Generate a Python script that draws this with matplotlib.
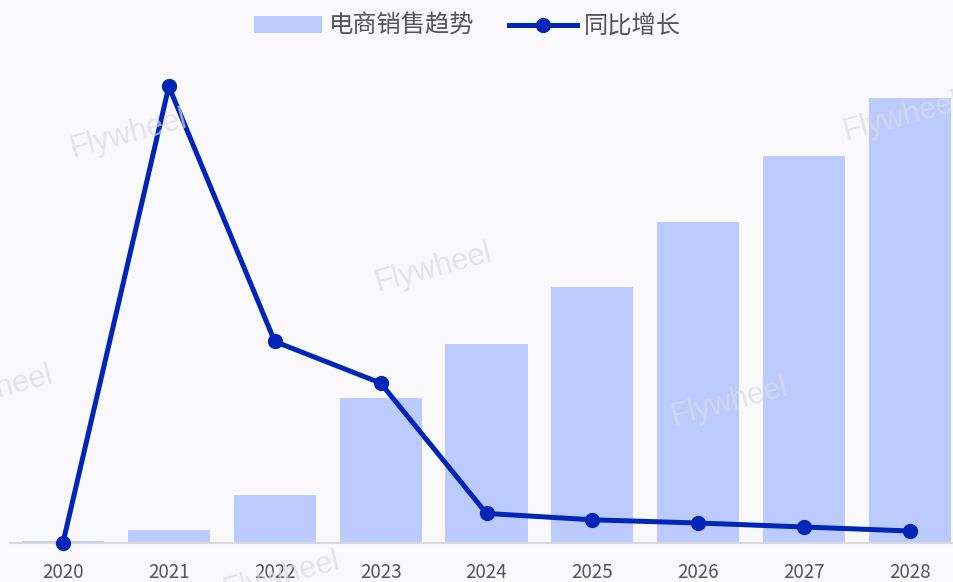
import matplotlib.pyplot as plt
import numpy as np

plt.rcParams['font.family'] = ['Noto Sans CJK SC', 'DejaVu Sans']

# data
years = ['2020', '2021', '2022', '2023', '2024', '2025', '2026', '2027', '2028']
sales = [0.4, 2.9, 10.8, 32.6, 44.7, 57.5, 72.1, 87.0, 100.0]
growth = [0, 571, 252, 200, 37, 29, 25, 20, 15]

bg = '#f9f9fc'
bar_color = '#bccbff'
line_color = '#0026b8'

fig = plt.figure(figsize=(9.54, 5.82), dpi=100, facecolor=bg)
# axes stretches a bit past the right edge (chart is cropped there)
ax = fig.add_axes([10 / 954, 39 / 582, 953 / 954, 483 / 582])
ax.set_facecolor(bg)

x = np.arange(len(years))
ax.bar(x, sales, width=0.775, color=bar_color, label='电商销售趋势', zorder=2)
ax.set_xlim(-0.5, len(years) - 0.5)
ax.set_ylim(0, 108.5)

ax2 = ax.twinx()
ax2.plot(x, growth, color=line_color, linewidth=3.6, marker='o', markersize=10,
         label='同比增长', zorder=3, clip_on=False)
ax2.set_ylim(0, 604)

for a in (ax, ax2):
    for s in ['top', 'right', 'left']:
        a.spines[s].set_visible(False)
    a.set_yticks([])
ax2.spines['bottom'].set_visible(False)
ax.spines['bottom'].set_color('#d9d9d9')
ax.spines['bottom'].set_linewidth(1.5)

ax.set_xticks(x)
ax.set_xticklabels(years, fontsize=13.5, color='#555555')
ax.tick_params(axis='x', length=0, pad=14)

# watermarks
marks = [(0.07, 0.73), (0.39, 0.50), (0.70, 0.27), (0.88, 0.76), (-0.07, 0.29), (0.23, -0.03)]
for mx, my in marks:
    fig.text(mx, my, 'Flywheel', fontsize=22, color='#dcdce0', alpha=0.7, rotation=15,
             family='Liberation Sans', zorder=5)

h1, l1 = ax.get_legend_handles_labels()
h2, l2 = ax2.get_legend_handles_labels()
fig.legend(h1 + h2, l1 + l2, loc='upper center', bbox_to_anchor=(0.49, 1.015), ncol=2,
           frameon=False, fontsize=17.5, labelcolor='#555555', handlelength=2.8,
           columnspacing=1.4, handletextpad=0.3)

fig.savefig('out.png', dpi=100, facecolor=bg)
